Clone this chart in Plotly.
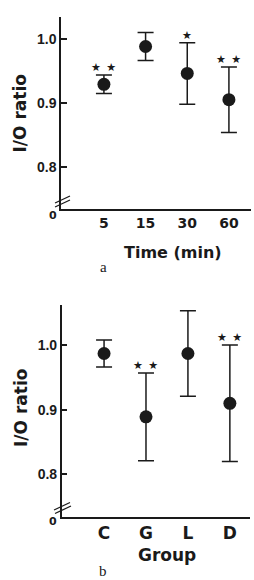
import plotly.graph_objects as go

W, H = 254, 580

# Panel a data
time_labels = ["5", "15", "30", "60"]
time_mean = [0.929, 0.988, 0.946, 0.905]
time_err = [0.0145, 0.022, 0.048, 0.051]
time_stars = ["★\u2002★", "", "★", "★\u2002★"]

# Panel b data
group_labels = ["C", "G", "L", "D"]
group_mean = [0.987, 0.889, 0.987, 0.910]
group_err = [0.021, 0.068, 0.066, 0.090]
group_stars = ["", "★\u2002★", "", "★\u2002★"]

ytick_vals = [0.8, 0.9, 1.0]
ytick_text = ["0.8", "0.9", "1.0"]


def px(x):
    return x / W


def py(y):
    return 1 - y / H


ink = "#1a1a1a"
fig = go.Figure()

fig.add_trace(go.Scatter(
    x=list(range(len(time_labels))), y=time_mean, mode="markers",
    marker=dict(size=13, color=ink),
    error_y=dict(type="data", array=time_err, color=ink, thickness=1.5, width=8),
    xaxis="x", yaxis="y", showlegend=False))

fig.add_trace(go.Scatter(
    x=list(range(len(group_labels))), y=group_mean, mode="markers",
    marker=dict(size=13, color=ink),
    error_y=dict(type="data", array=group_err, color=ink, thickness=1.5, width=8),
    xaxis="x2", yaxis="y2", showlegend=False))

tickfont_y = dict(family="Liberation Sans", size=14, color=ink, weight="bold")

axis_common = dict(showgrid=False, zeroline=False, showline=True,
                   linecolor=ink, linewidth=1.5)

fig.update_layout(
    width=W, height=H, margin=dict(l=0, r=0, t=0, b=0),
    paper_bgcolor="white", plot_bgcolor="white",
    xaxis=dict(domain=[px(61), px(251)], range=[-1.03, 3.53], anchor="y",
               tickvals=list(range(4)), ticktext=time_labels, ticks="",
               tickfont=dict(family="DejaVu Sans", size=14, color=ink, weight="bold"),
               **axis_common),
    yaxis=dict(domain=[py(209.3), py(17)], range=[0.734, 1.034], anchor="x",
               tickvals=ytick_vals, ticktext=ytick_text, ticks="inside",
               ticklen=6, tickwidth=1.5, tickcolor=ink, tickfont=tickfont_y,
               **axis_common),
    xaxis2=dict(domain=[px(61.7), px(250)], range=[-1.01, 3.48], anchor="y2",
                tickvals=list(range(4)), ticktext=group_labels, ticks="",
                tickfont=dict(family="DejaVu Sans", size=17, color=ink, weight="bold"),
                **axis_common),
    yaxis2=dict(domain=[py(516.7), py(305)], range=[0.7346, 1.062], anchor="x2",
                tickvals=ytick_vals, ticktext=ytick_text, ticks="inside",
                ticklen=6, tickwidth=1.5, tickcolor=ink, tickfont=tickfont_y,
                **axis_common),
)

ann = []
star_font = dict(family="DejaVu Sans", size=11, color=ink)
for i, s in enumerate(time_stars):
    if s:
        ann.append(dict(x=i, y=time_mean[i] + time_err[i], xref="x", yref="y",
                        text=s, showarrow=False, xanchor="center", yanchor="bottom",
                        yshift=-1, font=star_font))
for i, s in enumerate(group_stars):
    if s:
        ann.append(dict(x=i, y=group_mean[i] + group_err[i], xref="x2", yref="y2",
                        text=s, showarrow=False, xanchor="center", yanchor="bottom",
                        yshift=-1, font=star_font))

ytitle_font = dict(family="DejaVu Sans", size=17, color=ink, weight="bold")
label_specs = [
    (20, 113.5, "I/O ratio", -90, ytitle_font),
    (20.5, 408.5, "I/O ratio", -90, ytitle_font),
    (173, 252, "Time (min)", 0, dict(family="DejaVu Sans", size=16, color=ink, weight="bold")),
    (167, 555, "Group", 0, dict(family="DejaVu Sans", size=17, color=ink, weight="bold")),
    (103, 267, "a", 0, dict(family="Liberation Serif", size=15, color=ink)),
    (103, 571, "b", 0, dict(family="Liberation Serif", size=15, color=ink)),
    (52.5, 215.5, "0", 0, dict(family="DejaVu Sans", size=11, color=ink, weight="bold")),
    (53, 521, "0", 0, dict(family="DejaVu Sans", size=11, color=ink, weight="bold")),
]
for (x, y, t, ang, f) in label_specs:
    ann.append(dict(x=px(x), y=py(y), xref="paper", yref="paper", text=t,
                    textangle=ang, showarrow=False, xanchor="center",
                    yanchor="middle", font=f))
fig.update_layout(annotations=ann)

# axis break marks
shapes = []
for (x0, y0, x1, y1) in [(55, 203, 70, 196), (55, 207, 70, 200),
                         (54, 510, 70, 502.5), (55, 513.5, 71, 506)]:
    shapes.append(dict(type="line", xref="paper", yref="paper",
                       x0=px(x0), y0=py(y0), x1=px(x1), y1=py(y1),
                       line=dict(color=ink, width=1.3)))
fig.update_layout(shapes=shapes)

fig.write_html("out.html")
